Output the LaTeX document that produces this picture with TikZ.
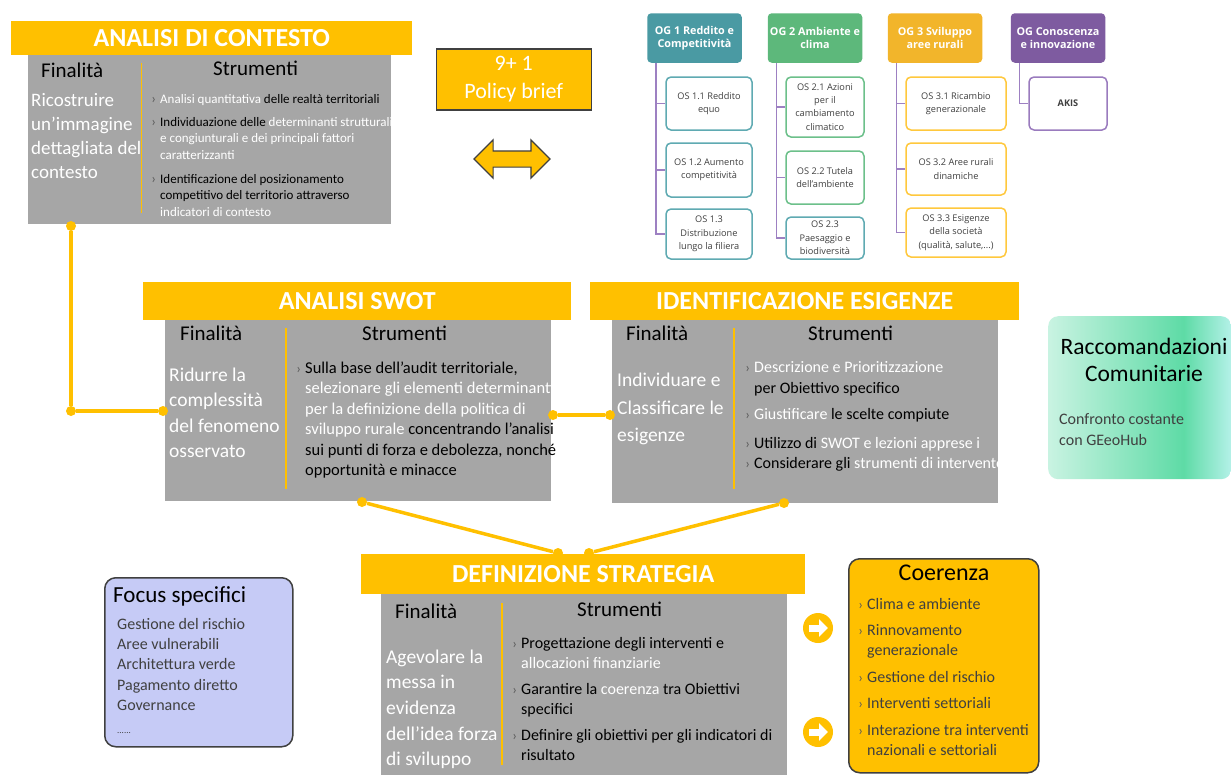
\documentclass[tikz,border=0pt]{standalone}
\usepackage{fontspec}
\setmainfont{Carlito}
\newfontfamily\ogfont{Open Sans}
\usepackage{tikz}
\usetikzlibrary{positioning, shapes.arrows, arrows.meta}

\definecolor{ochre}{HTML}{FFC000}
\definecolor{boxgrey}{HTML}{A6A6A6}
\definecolor{darkline}{HTML}{404040}
\definecolor{bulgrey}{HTML}{5A5A5A}
\definecolor{ogteal}{HTML}{4A9AA3}
\definecolor{oggreen}{HTML}{5DB87B}
\definecolor{ogorange}{HTML}{F2B52B}
\definecolor{ogpurple}{HTML}{7E5BA0}
\definecolor{osteal}{HTML}{5FAAB2}
\definecolor{osgreen}{HTML}{6CC08A}
\definecolor{osyellow}{HTML}{FFC83D}
\definecolor{ospurple}{HTML}{9A7BBE}
\definecolor{treeline}{HTML}{9D80C2}
\definecolor{focusfill}{HTML}{C6CBF6}
\definecolor{mintA}{HTML}{C9F3E2}
\definecolor{mintB}{HTML}{5EDBA6}
\definecolor{mintC}{HTML}{B4F1E8}

\pgfdeclarehorizontalshading{mintshade}{100bp}{color(0bp)=(mintA); color(25bp)=(mintA); color(62bp)=(mintB); color(75bp)=(mintC); color(100bp)=(mintC)}

\newcommand{\fs}[2]{\fontsize{#1}{#2}\selectfont}
\newcommand{\bul}{\llap{\textcolor{bulgrey}{\fs{14}{14}›}\hspace{4pt}}}
\newcommand{\wt}[1]{\textcolor{white}{#1}}

\tikzset{
  banner/.style={fill=ochre, text=white, font=\bfseries\fs{26}{30}, anchor=north west, inner sep=0pt},
  greybox/.style={fill=boxgrey, anchor=north west, inner sep=0pt},
  colhead/.style={font=\fs{21}{25}, anchor=west, inner sep=0pt},
  aimtext/.style={font=\fs{19.5}{25.5}, text=white, align=left, anchor=north west, inner sep=0pt},
  tooltext/.style={font=\fs{16.5}{20.5}, align=left, anchor=north west, inner sep=0pt},
  listtext/.style={font=\fs{16}{20}, text=darkline, align=left, anchor=north west, inner sep=0pt},
  divider/.style={draw=ochre, line width=1.5pt},
  link/.style={draw=ochre, line width=3.5pt},
  joint/.style={circle, fill=ochre, minimum size=10pt, inner sep=0pt},
  ogtitle/.style={rounded corners=4pt, text=white, font=\ogfont\bfseries\fs{10.8}{13.3}, align=center, minimum width=94.5pt, minimum height=49.5pt, inner sep=0pt},
  osbox/.style={rounded corners=5pt, draw, line width=1.5pt, fill=white, text=darkline, font=\ogfont\fs{9.2}{13.3}, align=center, inner sep=0pt},
  tree/.style={draw=treeline, line width=1.8pt},
  roundbox/.style={rounded corners=11pt, draw=darkline, line width=1.5pt, anchor=north west, inner sep=0pt},
  gocircle/.style={circle, fill=ochre, minimum size=30pt, inner sep=0pt},
  icon/.style={white, line width=7pt, -{Triangle[length=9pt, width=17pt]}}
}

\begin{document}
\begin{tikzpicture}[x=1pt, y=-1pt]
    \useasboundingbox (0,0) rectangle (1231,774);
    \fill[white] (0,0) rectangle (1231,774);

    \node[greybox, minimum width=363pt, minimum height=169pt] (ctxbox) at (28,55) {};
    \node[banner, minimum width=401pt, minimum height=34pt] (ctxhead) at (11,21) {ANALISI DI CONTESTO};
    \draw[divider] (141.5,63) -- (141.5,213);
    \node[colhead] (ctxaim) at (41,70) {Finalità};
    \node[colhead] (ctxtool) at (213,68) {Strumenti};
    \node[aimtext, font=\fs{19}{24}] (ctxaimtxt) at (31,93.5) {Ricostruire\\un’immagine\\dettagliata del\\contesto};
    \node[tooltext, font=\fs{13}{16.5}] (ctxtooltxt) at (160,94) {\bul\wt{Analisi quantitativa} delle realtà territoriali\\[6.5pt]
        \bul Individuazione delle \wt{determinanti strutturali}\\ \wt{e congiunturali e dei  principali fattori}\\ \wt{caratterizzanti}\\[7.5pt]
        \bul Identificazione del posizionamento\\ competitivo del territorio attraverso\\ \wt{indicatori di contesto}};

    \node[draw=darkline, fill=ochre, line width=1.5pt, minimum width=155pt, minimum height=61pt, font=\fs{22}{28}, text=white, align=center, inner sep=0pt, anchor=north west] (brief) at (435.5,48) {9+ 1\\Policy brief};
    \node[double arrow, draw=darkline, fill=ochre, line width=1.2pt, minimum height=76pt, inner xsep=0pt, inner ysep=7.5pt, double arrow head extend=11pt] (swap) at (512,159) {};

    \node[ogtitle, fill=ogteal] (og1) at (694.5,38) {OG 1 Reddito e\\Competitività};
    \node[ogtitle, fill=oggreen] (og2) at (815,38) {OG 2 Ambiente e\\clima};
    \node[ogtitle, fill=ogorange] (og3) at (935,38) {OG 3 Sviluppo\\aree rurali};
    \node[ogtitle, fill=ogpurple] (og4) at (1058,38) {OG Conoscenza\\e innovazione};

    \node[osbox, draw=osteal, minimum width=86pt, minimum height=53pt] (os11) at (709,103.5) {OS 1.1 Reddito\\equo};
    \node[osbox, draw=osteal, minimum width=86pt, minimum height=54pt] (os12) at (709,170) {OS 1.2 Aumento\\competitività};
    \node[osbox, draw=osteal, minimum width=86pt, minimum height=50pt] (os13) at (709,234) {OS 1.3\\Distribuzione\\lungo la filiera};
    \node[osbox, draw=osgreen, minimum width=78pt, minimum height=60pt] (os21) at (825,107) {OS 2.1 Azioni\\per il\\cambiamento\\climatico};
    \node[osbox, draw=osgreen, minimum width=78pt, minimum height=53pt] (os22) at (825,177.5) {OS 2.2 Tutela\\dell’ambiente};
    \node[osbox, draw=osteal, minimum width=78pt, minimum height=42pt] (os23) at (825,238) {OS 2.3\\Paesaggio e\\biodiversità};
    \node[osbox, draw=osyellow, minimum width=100pt, minimum height=53pt] (os31) at (956,103.5) {OS 3.1 Ricambio\\generazionale};
    \node[osbox, draw=osyellow, minimum width=100pt, minimum height=52pt] (os32) at (956,169) {OS 3.2 Aree rurali\\dinamiche};
    \node[osbox, draw=osyellow, minimum width=100pt, minimum height=49pt] (os33) at (956,232.5) {OS 3.3 Esigenze\\della società\\(qualità, salute,...)};
    \node[osbox, draw=ospurple, minimum width=78pt, minimum height=53pt] (akis) at (1068,103.5) {\bfseries AKIS};

    \draw[tree] ([xshift=9pt]og1.south west) |- (os11.west);
    \draw[tree] ([xshift=9pt]og1.south west) |- (os12.west);
    \draw[tree] ([xshift=9pt]og1.south west) |- (os13.west);
    \draw[tree] ([xshift=9pt]og2.south west) |- (os21.west);
    \draw[tree] ([xshift=9pt]og2.south west) |- (os22.west);
    \draw[tree] ([xshift=9pt]og2.south west) |- (os23.west);
    \draw[tree] ([xshift=9pt]og3.south west) |- (os31.west);
    \draw[tree] ([xshift=9pt]og3.south west) |- (os32.west);
    \draw[tree] ([xshift=9pt]og3.south west) |- (os33.west);
    \draw[tree] ([xshift=9pt]og4.south west) |- (akis.west);

    \node[greybox, minimum width=386pt, minimum height=181pt] (swotbox) at (165,320) {};
    \node[banner, minimum width=428pt, minimum height=38pt] (swothead) at (143,282) {ANALISI SWOT};
    \draw[divider] (286,328) -- (286,489);
    \node[colhead] (swotaim) at (180,333) {Finalità};
    \node[colhead] (swottool) at (362,333) {Strumenti};
    \node[aimtext] (swotaimtxt) at (169,367.5) {Ridurre la\\complessità\\del fenomeno\\osservato};
    \node[tooltext] (swottooltxt) at (305,361.5) {\bul Sulla base dell’audit territoriale,\\ \wt{selezionare  gli elementi determinanti}\\ \wt{per la definizione della politica di}\\
        \wt{sviluppo rurale} concentrando l’analisi\\ sui punti di forza e debolezza, nonché\\ opportunità e minacce};

    \node[greybox, minimum width=386pt, minimum height=183pt] (needbox) at (612,320) {};
    \node[banner, minimum width=429pt, minimum height=38pt] (needhead) at (590,282) {IDENTIFICAZIONE ESIGENZE};
    \draw[divider] (734,328) -- (734,489);
    \node[colhead] (needaim) at (626,333) {Finalità};
    \node[colhead] (needtool) at (808,333) {Strumenti};
    \node[aimtext, font=\fs{19.5}{27.5}] (needaimtxt) at (617,373) {Individuare e\\Classificare le\\esigenze};
    \node[tooltext, font=\fs{16}{20.5}] (needtooltxt) at (754,361.5) {\bul\wt{Descrizione e Prioritizzazione}\\ per Obiettivo specifico\\[5.5pt]
        \bul\wt{Giustificare} le scelte compiute\\[8.5pt] \bul Utilizzo di \wt{SWOT e lezioni apprese i}\\ \bul Considerare gli \wt{strumenti di intervento}};

    \node[rounded corners=10pt, shade, shading=mintshade, minimum width=183pt, minimum height=163pt, anchor=north west, inner sep=0pt] (recbox) at (1048,316) {};
    \node[font=\fs{23.5}{27}, align=center, inner sep=0pt, anchor=north] (rectitle) at (1144,338) {Raccomandazioni\\Comunitarie};
    \node[listtext, font=\fs{16}{21}] (recnote) at (1059,413) {Confronto costante\\con GEeoHub};

    \node[greybox, minimum width=406pt, minimum height=190pt] (stratbox) at (381,594) {};
    \node[banner, minimum width=444pt, minimum height=40pt] (strathead) at (361,554) {DEFINIZIONE STRATEGIA};
    \draw[divider] (502,603) -- (502,765);
    \node[colhead] (strataim) at (395,611) {Finalità};
    \node[colhead] (strattool) at (577,609) {Strumenti};
    \node[aimtext, font=\fs{19.5}{25.6}] (strataimtxt) at (386,649.5) {Agevolare la\\messa in\\evidenza\\dell’idea forza\\di sviluppo};
    \node[tooltext, font=\fs{16}{20}] (strattooltxt) at (521,637) {\bul Progettazione degli interventi e\\ \wt{allocazioni finanziarie}\\[6pt]
        \bul Garantire la \wt{coerenza} tra Obiettivi\\ specifici\\[6pt] \bul Definire gli obiettivi per gli indicatori di\\ risultato};

    \node[roundbox, fill=focusfill, minimum width=188pt, minimum height=169pt] (focusbox) at (104,577) {};
    \node[font=\fs{23}{27}, anchor=west, inner sep=0pt] (focustitle) at (113,596) {Focus specifici};
    \node[listtext, font=\fs{16}{20.3}] (focuslist) at (117,618) {Gestione del rischio\\Aree vulnerabili\\Architettura verde\\Pagamento diretto\\Governance\\[3pt] {\fs{9}{9}......}};

    \node[roundbox, fill=ochre, minimum width=190pt, minimum height=214pt] (coerbox) at (848,558) {};
    \node[font=\fs{24}{28}, inner sep=0pt] (coertitle) at (944,573) {Coerenza};
    \node[listtext] (coerlist) at (867,598) {\bul Clima e ambiente\\[6.5pt] \bul Rinnovamento\\ generazionale\\[6.5pt] \bul Gestione del rischio\\[6.5pt]
        \bul Interventi settoriali\\[6.5pt] \bul Interazione tra interventi\\ nazionali e settoriali};

    \node[gocircle] (go1) at (818,628) {};
    \node[gocircle] (go2) at (818,732) {};
    \draw[icon] ([xshift=-9pt]go1.center) -- ([xshift=10pt]go1.center);
    \draw[icon] ([xshift=-9pt]go2.center) -- ([xshift=10pt]go2.center);

    \node[joint] (c1) at (71,226) {};
    \node[joint] (c2) at (71,411) {};
    \node[joint] (c3) at (163,411) {};
    \node[joint] (s1) at (553,415) {};
    \node[joint] (e1) at (610,415) {};
    \node[joint] (s2) at (362,502) {};
    \node[joint] (e2) at (784,503) {};
    \node[joint] (t1) at (558,553) {};
    \node[joint] (t2) at (589,553) {};
    \path[link] (c1) edge (c2) (c2) edge (c3) (s1) edge (e1);
    \path[link] (s2) edge (t1) (e2) edge (t2);

  \end{tikzpicture}
\end{document}
